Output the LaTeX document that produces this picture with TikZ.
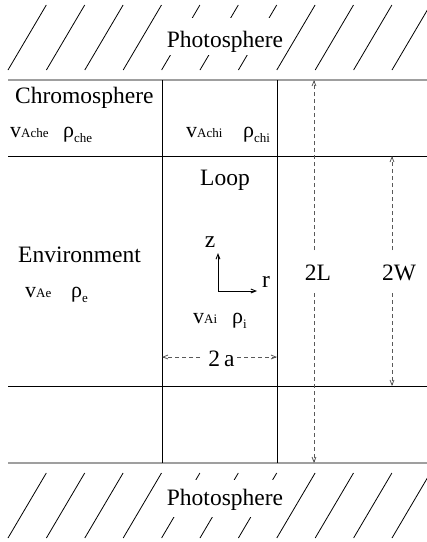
\documentclass[tikz,border=0pt]{standalone}
\usepackage{fontspec}
\setmainfont{Liberation Serif}
\usetikzlibrary{arrows.meta}
\newcommand\subf{\fontsize{13}{15}\selectfont}
\begin{document}
\begin{tikzpicture}[x=1pt,y=-1pt,
  big/.style={font=\fontsize{23.5}{28}\selectfont, inner sep=0pt},
  var/.style={font=\fontsize{22}{26}\selectfont, inner sep=0pt, anchor=base west},
  hatch/.style={line width=0.8pt},
  gline/.style={line width=1.6pt, gray!75},
  bline/.style={line width=1pt},
  barb/.tip={Straight Barb[length=5pt,width=4pt]},
  dim/.style={gray!70!black, line width=0.8pt, dash pattern=on 4pt off 3pt, -barb},
  axis/.style={line width=0.9pt, -barb},
]
\useasboundingbox (0,0) rectangle (427,542);
% hatching
\foreach \i in {0,...,10} {
  \draw[hatch] ({8+38.4*\i},70) -- ({46.3+38.4*\i},5);
  \draw[hatch] ({8+38.4*\i},538) -- ({46.3+38.4*\i},473);
}
\node[big, fill=white, anchor=base, text height=29pt, text depth=8pt] (ph1) at (225,47) {Photosphere};
\node[big, fill=white, anchor=base, text height=25pt, text depth=12pt] (ph2) at (225,505) {Photosphere};
% horizontal lines
\coordinate (a1) at (8,80);  \coordinate (b1) at (427,80);
\coordinate (a2) at (8,156); \coordinate (b2) at (427,156);
\coordinate (a3) at (8,386); \coordinate (b3) at (427,386);
\coordinate (a4) at (8,463); \coordinate (b4) at (427,463);
\draw[gline] (a1) -- (b1);
\draw[bline] (a2) -- (b2);
\draw[bline] (a3) -- (b3);
\draw[gline] (a4) -- (b4);
% vertical lines
\coordinate (v1t) at (162,80); \coordinate (v1b) at (162,463);
\coordinate (v2t) at (277,80); \coordinate (v2b) at (277,463);
\draw[bline] (v1t) -- (v1b);
\draw[bline] (v2t) -- (v2b);
% labels
\node[big, anchor=base west] (chromo) at (15,103) {Chromosphere};
\node[big, anchor=base] (loop) at (225,185) {Loop};
\node[big, anchor=base west] (env) at (18,262) {Environment};
\node[var] (vache) at (10,137) {v{\subf Ache}};
\node[var] (rche) at (63,137) {ρ\raisebox{-5pt}{\subf che}};
\node[var] (vachi) at (186,137) {v{\subf Achi}};
\node[var] (rchi) at (243,137) {ρ\raisebox{-5pt}{\subf chi}};
\node[var] (vae) at (25,297) {v{\subf Ae}};
\node[var] (re) at (71,297) {ρ\raisebox{-5pt}{\subf e}};
\node[var] (vai) at (193,323) {v{\subf Ai}};
\node[var] (ri) at (232,323) {ρ\raisebox{-5pt}{\subf i}};
% axes
\coordinate (o) at (218,291);
\coordinate (zt) at (218,253);
\coordinate (rt) at (257,291);
\draw[axis] (o) -- (zt);
\draw[axis] (o) -- (rt);
\node[big, anchor=base] (zl) at (210,247) {z};
\node[big, anchor=base] (rl) at (266,287) {r};
% 2L
\node[big, anchor=base] (l2L) at (318,280) {2L};
\coordinate (Lg1) at (314,250); \coordinate (Lt) at (314,80);
\coordinate (Lg2) at (314,293); \coordinate (Lb) at (314,463);
\draw[dim] (Lg1) -- (Lt);
\draw[dim] (Lg2) -- (Lb);
% 2W
\node[big, anchor=base] (l2W) at (399,280) {2W};
\coordinate (Wg1) at (392,250); \coordinate (Wt) at (392,156);
\coordinate (Wg2) at (392,293); \coordinate (Wb) at (392,386);
\draw[dim] (Wg1) -- (Wt);
\draw[dim] (Wg2) -- (Wb);
% 2a
\node[big, anchor=base] (l2a) at (221.5,366) {2\,a};
\coordinate (ag1) at (200,357); \coordinate (al) at (162,357);
\coordinate (ag2) at (237,357); \coordinate (ar) at (277,357);
\draw[dim] (ag1) -- (al);
\draw[dim] (ag2) -- (ar);
\end{tikzpicture}
\end{document}
